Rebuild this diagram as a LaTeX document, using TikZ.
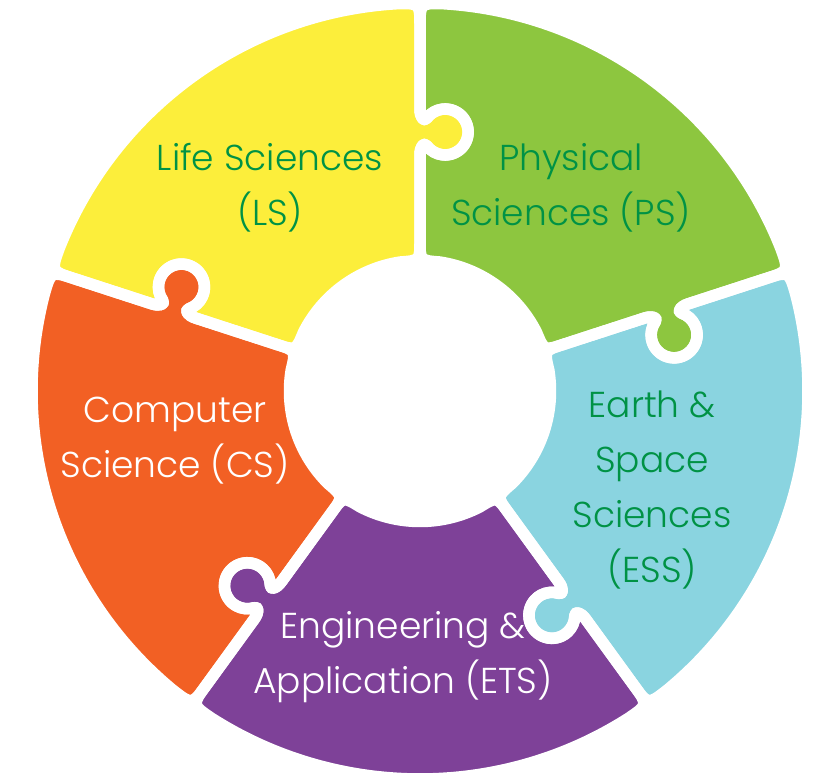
\documentclass[tikz,border=0pt]{standalone}
\usepackage{fontspec}
\setmainfont{Poppins}[UprightFont={* Light}]
\definecolor{pyellow}{HTML}{FCEE3B}
\definecolor{pgreen}{HTML}{8DC63F}
\definecolor{pblue}{HTML}{8AD4E0}
\definecolor{porange}{HTML}{F26024}
\definecolor{ppurple}{HTML}{7E4198}
\definecolor{tgreen}{HTML}{009245}
\newcommand{\puzzlepiece}[2]{%
\path[#2, shift={(420,383)}, rotate=#1]
 (8.78:130.5) .. controls (0:130.5) .. (150.5,0) -- (236,0)
 .. controls (244,0) and (249.3,-3.6) .. (245.2,-6.8)
 arc[start angle=127, end angle=413, radius=23]
 .. controls (268.7,-3.6) and (274,0) .. (282,0)
 -- (364,0) .. controls (388,0) .. (3.54:388)
 arc[start angle=3.54, end angle=68.46, radius=388]
 .. controls (72:388) .. (72:364)
 {[rotate=72] -- (282,0) .. controls (274,0) and (268.7,-3.6) .. (272.8,-6.8)
   arc[start angle=413, end angle=127, radius=23]
   .. controls (249.3,-3.6) and (244,0) .. (236,0)
   -- (150.5,0) .. controls (130.5,0) .. (-8.78:130.5)}
 arc[start angle=63.22, end angle=8.78, radius=130.5] -- cycle;}
\tikzset{
  gapline/.style={draw=white, line width=11.5, line join=round},
  label/.style={align=center, font=\fontsize{36}{55}\selectfont, inner sep=0pt}
}
\begin{document}
\begin{tikzpicture}[x=1pt, y=1pt]
\fill[white] (0,0) rectangle (822,774);
\useasboundingbox (0,0) rectangle (822,774);
\puzzlepiece{18}{fill=pgreen}
\puzzlepiece{90}{fill=pyellow}
\puzzlepiece{162}{fill=porange}
\puzzlepiece{234}{fill=ppurple}
\puzzlepiece{306}{fill=pblue}
\puzzlepiece{18}{gapline}
\puzzlepiece{90}{gapline}
\puzzlepiece{162}{gapline}
\puzzlepiece{234}{gapline}
\puzzlepiece{306}{gapline}
\node[label, text=tgreen] (ls) at (270,586) {Life Sciences\\(LS)};
\node[label, text=tgreen] (ps) at (571,586) {Physical\\Sciences (PS)};
\node[label, text=tgreen] (ess) at (652,284) {Earth \&\\Space\\Sciences\\(ESS)};
\node[label, text=white] (cs) at (175,333) {Computer\\Science (CS)};
\node[label, text=white] (ets) at (403,117) {Engineering \&\\Application (ETS)};
\end{tikzpicture}
\end{document}
